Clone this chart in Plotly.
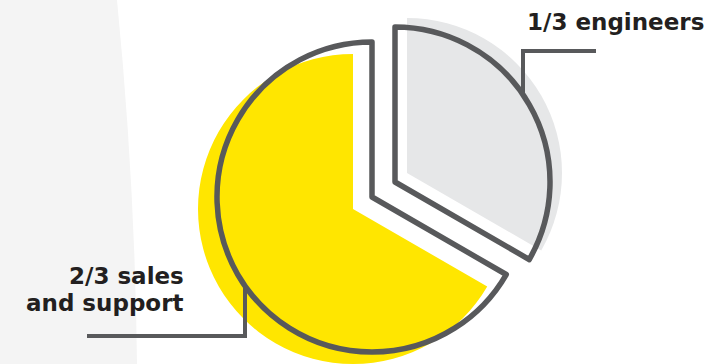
import plotly.graph_objects as go

W, H = 723, 364

categories = ["1/3 engineers", "2/3 sales and support"]
shares = [1, 2]
engineer_label = "1/3 engineers"
sales_label_lines = ["2/3 sales", "and support"]

YELLOW = "#ffe600"
LIGHT = "#e6e7e8"
DARK = "#58595b"
CLEAR = "rgba(0,0,0,0)"


def dom(cx, cy, r):
    return dict(x=[(cx - r) / W, (cx + r) / W],
                y=[max(0, 1 - (cy + r) / H), min(1, 1 - (cy - r) / H)])


def pie(cx, cy, r, colors, lw, lc):
    return go.Pie(
        labels=categories, values=shares, sort=False, direction="clockwise",
        rotation=0, domain=dom(cx, cy, r), textinfo="none", hoverinfo="label",
        showlegend=False,
        marker=dict(colors=colors, line=dict(color=lc, width=lw)),
    )


fig = go.Figure()
# fills (offset)
fig.add_trace(pie(353, 209, 155, [CLEAR, YELLOW], [0, 0], CLEAR))
fig.add_trace(pie(407, 173, 155, [LIGHT, CLEAR], [0, 0], CLEAR))
# outlines
fig.add_trace(pie(372, 197, 155, [CLEAR, CLEAR], [0, 5.5], DARK))
fig.add_trace(pie(395, 182, 155, [CLEAR, CLEAR], [5.5, 0], DARK))


def px(x):
    return x / W


def py(y):
    return 1 - y / H


shapes = [
    dict(type="path", xref="paper", yref="paper", layer="below",
         path=f"M 0,1 L {px(117)},1 Q {px(135)},{py(182)} {px(137)},0 L 0,0 Z",
         fillcolor="#f4f4f4", line=dict(width=0)),
    dict(type="path", xref="paper", yref="paper", layer="above",
         path=f"M {px(523)},{py(95)} L {px(523)},{py(51)} L {px(596)},{py(51)}",
         line=dict(color=DARK, width=4)),
    dict(type="path", xref="paper", yref="paper", layer="above",
         path=f"M {px(245)},{py(286)} L {px(245)},{py(336)} L {px(87)},{py(336)}",
         line=dict(color=DARK, width=4)),
]

font = dict(family="DejaVu Sans, sans-serif", size=23, color="#231f20", weight="bold")
annotations = [
    dict(text=engineer_label, xref="paper", yref="paper", x=px(706), y=py(22),
         xanchor="right", yanchor="middle", showarrow=False, align="right", font=font),
    dict(text=sales_label_lines[0], xref="paper", yref="paper", x=px(186), y=py(276),
         xanchor="right", yanchor="middle", showarrow=False, align="right", font=font),
    dict(text=sales_label_lines[1], xref="paper", yref="paper", x=px(186), y=py(303),
         xanchor="right", yanchor="middle", showarrow=False, align="right", font=font),
]

fig.update_layout(
    width=W, height=H, margin=dict(l=0, r=0, t=0, b=0),
    paper_bgcolor="white", plot_bgcolor="white",
    shapes=shapes, annotations=annotations,
)

fig.write_html("out.html", config={"displayModeBar": False})
